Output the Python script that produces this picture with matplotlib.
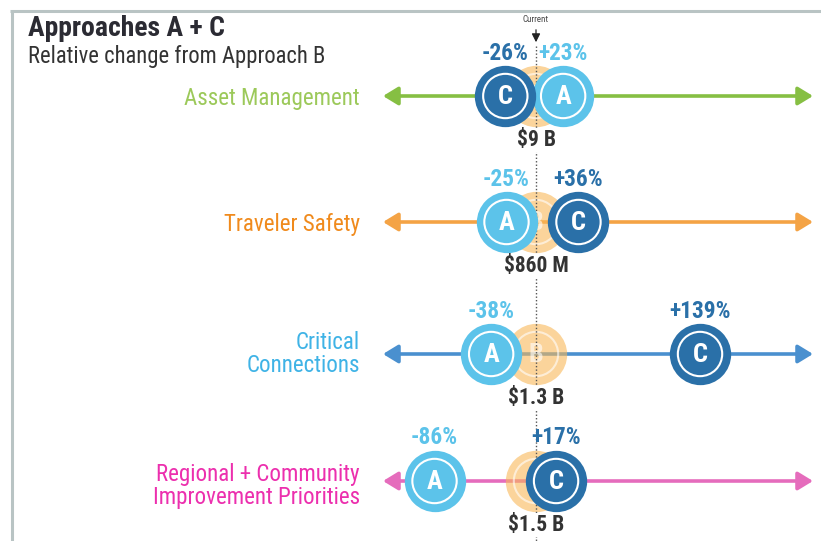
import matplotlib.pyplot as plt
from matplotlib import font_manager
import os

# data
categories = ["Asset Management", "Traveler Safety", "Critical\nConnections",
              "Regional + Community\nImprovement Priorities"]
baseline_labels = ["$9 B", "$860 M", "$1.3 B", "$1.5 B"]
approach_a = [23, -25, -38, -86]
approach_c = [-26, 36, 139, 17]
label_colors = ["#9cc95a", "#f08a1c", "#3fb3e6", "#ec2fae"]
line_colors = ["#86bf43", "#f4a345", "#4a90cf", "#e56cbc"]


# look for a condensed face, the original uses a narrow grotesque
def find_font(bold):
    files = font_manager.findSystemFonts()
    prefs = ["RobotoCondensed", "LiberationSansNarrow", "DejaVuSansCondensed", "OpenSansCondensed"]
    for p in prefs:
        for f in files:
            b = os.path.basename(f).replace("-", "").replace("_", "")
            if not b.startswith(p):
                continue
            rest = b[len(p):].lower()
            if bold and rest.startswith("bold") and "oblique" not in rest and "italic" not in rest:
                return f
            if not bold and rest.split(".")[0] in ("", "regular"):
                return f
    return None

reg_file = find_font(False)
bold_file = find_font(True)
FR = font_manager.FontProperties(fname=reg_file) if reg_file else font_manager.FontProperties(family="DejaVu Sans")
FB = font_manager.FontProperties(fname=bold_file) if bold_file else font_manager.FontProperties(family="DejaVu Sans", weight="bold")

W, H = 821, 541
CX = 536      # pixel position of "current"
SCALE = 1.18  # pixels per percent

def px(p):
    return (p - CX) / SCALE

fig = plt.figure(figsize=(W / 100, H / 100), dpi=100)
ax = fig.add_axes([0, 0, 1, 1])
ax.set_xlim(px(0), px(W))
ax.set_ylim(H, 0)
ax.axis('off')

A_COL = "#5cc3ea"
C_COL = "#2a70a8"
B_COL = "#f9b858"
DARK = "#333333"

# frame
ax.plot([px(10), px(W)], [11, 11], color="#b9c4c4", lw=2.2, solid_capstyle='butt')
ax.plot([px(12), px(12)], [11, H], color="#b9c4c4", lw=2.2, solid_capstyle='butt')

ax.text(px(28), 29, "Approaches A + C", fontproperties=FB, fontsize=20, color="#2b2b33",
        va='center', ha='left')
ax.text(px(28), 56, "Relative change from Approach B", fontproperties=FR, fontsize=16.3, color="#333333",
        va='center', ha='left')

# current marker
ax.text(0, 20, "Current", fontproperties=FR, fontsize=6.5, color="#444444", ha='center', va='center')
ax.annotate("", xy=(0, 45), xytext=(0, 27),
            arrowprops=dict(arrowstyle="-|>,head_length=0.5,head_width=0.25", color="#222222", lw=0.9))
ax.plot([0, 0], [46, H], color="#555555", lw=1.0, ls=(0, (1, 1.5)), zorder=3)

rows_y = [96, 222, 354, 481]
label_dy = [2, 2, 0, 5]
S_OUT = 1950
S_IN = 1020

for i, cy in enumerate(rows_y):
    ax.text(px(360), cy + label_dy[i], categories[i], fontproperties=FR, fontsize=16.6,
            color=label_colors[i], ha='right', va='center', linespacing=1.05)
    ax.annotate("", xy=(px(813), cy), xytext=(px(383), cy),
                arrowprops=dict(arrowstyle="<|-|>,head_length=0.9,head_width=0.55",
                                color=line_colors[i], lw=2.6, shrinkA=0, shrinkB=0),
                zorder=1)

    # approach B (current) circle
    ax.scatter([0], [cy], s=S_OUT, color=B_COL, alpha=0.6, lw=0, zorder=2)
    ax.scatter([0], [cy], s=S_IN, facecolor='none', edgecolor='white', lw=1.5, alpha=0.6, zorder=2)
    ax.text(0, cy + 1, "B", fontproperties=FB, fontsize=19, color='white', alpha=0.6,
            ha='center', va='center', zorder=2)

    for val, col, letter, z in [(approach_a[i], A_COL, "A", 5), (approach_c[i], C_COL, "C", 6)]:
        if i == 2 and letter == "A":
            z = 6
        ax.scatter([val], [cy], s=S_OUT, color=col, lw=0, zorder=z)
        ax.scatter([val], [cy], s=S_IN, facecolor='none', edgecolor='white', lw=1.5, zorder=z)
        ax.text(val, cy + 1, letter, fontproperties=FB, fontsize=19, color='white',
                ha='center', va='center', zorder=z)
        sign = "+" if val > 0 else "-"
        ax.text(val, cy - 43, f"{sign}{abs(val)}%", fontproperties=FB, fontsize=16.8, color=col,
                ha='center', va='center', zorder=7)

    ax.text(0, cy + 44, baseline_labels[i], fontproperties=FB, fontsize=15.5, color=DARK,
            ha='center', va='center', zorder=7,
            bbox=dict(facecolor='white', edgecolor='none', pad=0.5))

fig.savefig("out.png", dpi=100)
